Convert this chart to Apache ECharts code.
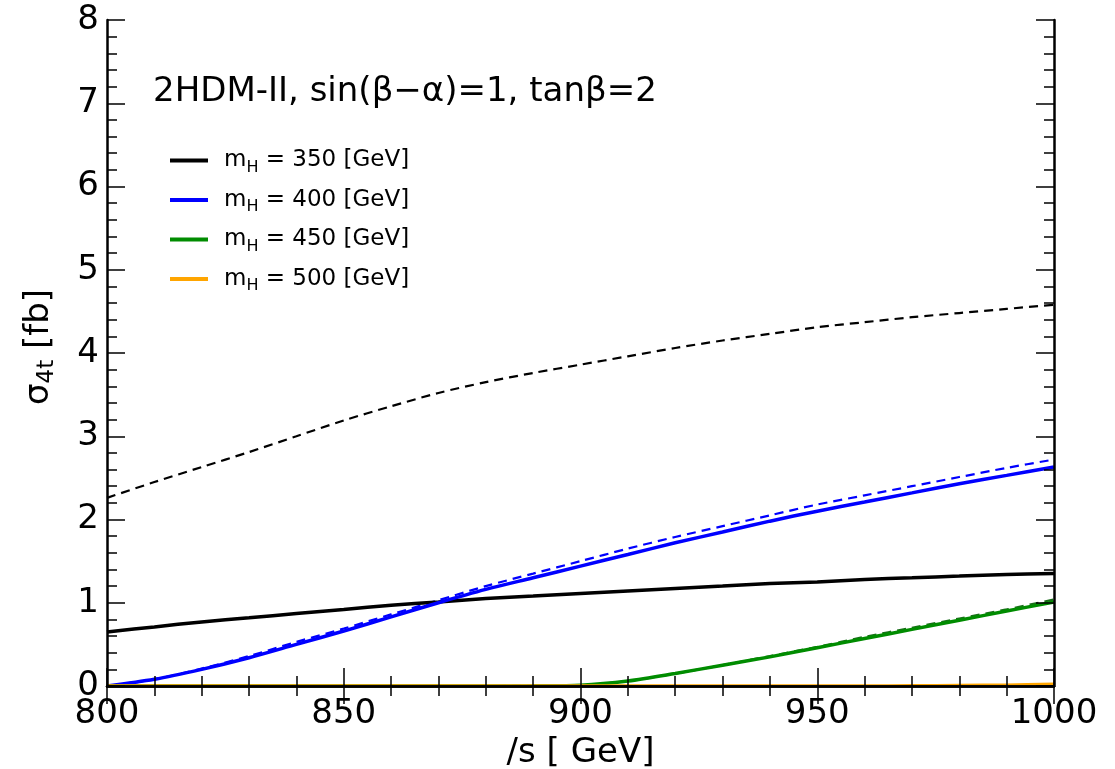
<!DOCTYPE html>
<html>
<head>
<meta charset="utf-8">
<script src="https://cdn.jsdelivr.net/npm/echarts@6/dist/echarts.min.js"></script>
<style>
  html, body { margin: 0; padding: 0; background: #fff; }
  #chart { width: 1115px; height: 769px; }
</style>
</head>
<body>
<div id="chart"></div>
<script>
// sqrt(s) in GeV
const energy = [800, 810, 820, 830, 840, 850, 860, 870, 880, 890, 900, 910, 920, 930, 940, 950, 960, 970, 980, 990, 1000];

const mH350 = [0.65, 0.71, 0.77, 0.82, 0.87, 0.92, 0.97, 1.01, 1.05, 1.08, 1.11, 1.14, 1.17, 1.20, 1.23, 1.25, 1.28, 1.30, 1.32, 1.34, 1.35];
const mH350dash = [2.26, 2.45, 2.63, 2.81, 3.0, 3.19, 3.36, 3.52, 3.65, 3.76, 3.86, 3.96, 4.06, 4.15, 4.23, 4.31, 4.37, 4.43, 4.48, 4.53, 4.58];
const mH400 = [0.0, 0.08, 0.2, 0.34, 0.5, 0.66, 0.83, 1.0, 1.16, 1.3, 1.44, 1.58, 1.72, 1.85, 1.98, 2.1, 2.21, 2.32, 2.43, 2.53, 2.63];
const mH400dash = [0.0, 0.08, 0.21, 0.36, 0.53, 0.69, 0.86, 1.03, 1.2, 1.35, 1.5, 1.65, 1.79, 1.92, 2.05, 2.18, 2.29, 2.40, 2.51, 2.62, 2.72];
const mH450 = [0, 0, 0, 0, 0, 0, 0, 0, 0, 0.002, 0.01, 0.06, 0.15, 0.25, 0.35, 0.46, 0.57, 0.68, 0.79, 0.90, 1.01];
const mH450dash = [0, 0, 0, 0, 0, 0, 0, 0, 0, 0.002, 0.01, 0.06, 0.15, 0.25, 0.36, 0.47, 0.59, 0.70, 0.81, 0.92, 1.04];
const mH500 = [0, 0, 0, 0, 0, 0, 0, 0, 0, 0, 0, 0, 0, 0, 0, 0, 0, 0.003, 0.006, 0.01, 0.02];

const names = ["350", "400", "450", "500"];
const font = "DejaVu Sans, Liberation Sans, sans-serif";

function pairs(ys) {
  return energy.map((x, i) => [x, ys[i]]);
}

function line(name, ys, color, dashed) {
  return {
    name: name,
    type: "line",
    data: pairs(ys),
    smooth: 0.3,
    symbol: "none",
    lineStyle: {
      color: color,
      width: dashed ? 2.2 : 3.5,
      type: dashed ? [9, 6] : "solid",
    },
    itemStyle: { color: color },
    z: dashed ? 3 : 4,
  };
}

const chart = echarts.init(document.getElementById("chart"));

const tickLabel = { color: "#000", fontSize: 34, fontFamily: font };

const baseX = {
  type: "value",
  min: 800,
  max: 1000,
  interval: 50,
  z: 10,
  axisLine: { show: true, lineStyle: { color: "#000", width: 2.5 } },
  axisTick: { show: true, inside: true, length: 18, lineStyle: { color: "#000", width: 1.5 } },
  minorTick: { show: true, splitNumber: 5, length: 10, lineStyle: { color: "#000", width: 1.5 } },
  splitLine: { show: false },
  minorSplitLine: { show: false },
};

const baseY = {
  type: "value",
  min: 0,
  max: 8,
  interval: 1,
  z: 10,
  axisLine: { show: true, lineStyle: { color: "#000", width: 2.5 } },
  axisTick: { show: true, inside: true, length: 18, lineStyle: { color: "#000", width: 1.5 } },
  minorTick: { show: true, splitNumber: 5, length: 10, lineStyle: { color: "#000", width: 1.5 } },
  splitLine: { show: false },
  minorSplitLine: { show: false },
};

const option = {
  backgroundColor: "#fff",
  animation: false,
  title: {
    text: "2HDM-II, sin(β−α)=1, tanβ=2",
    left: 148,
    top: 70,
    textStyle: { color: "#000", fontSize: 34, fontWeight: "normal", fontFamily: font },
  },
  grid: { left: 107, right: 61, top: 20, bottom: 83, outerBoundsMode: "none" },
  legend: {
    orient: "vertical",
    left: 165,
    top: 144,
    itemWidth: 38,
    itemHeight: 4,
    itemGap: 13,
    icon: "rect",
    data: names,
    formatter: function (n) {
      return "{m|m}{s|H}{m| = " + n + " [GeV]}";
    },
    textStyle: {
      padding: [0, 0, 0, 11],
      rich: {
        m: { fontSize: 23, color: "#000", fontFamily: font },
        s: { fontSize: 16, color: "#000", verticalAlign: "bottom", padding: [14, 0, 0, 0], fontFamily: font },
      },
    },
  },
  xAxis: [
    Object.assign({}, baseX, {
      position: "bottom",
      axisLabel: Object.assign({ margin: 11, formatter: (v) => String(v) }, tickLabel),
      name: "/s [ GeV]",
      nameLocation: "middle",
      nameGap: 48,
      nameTextStyle: { color: "#000", fontSize: 34, fontFamily: font, verticalAlign: "top" },
    }),
    Object.assign({}, baseX, { position: "top", axisLabel: { show: false } }),
  ],
  yAxis: [
    Object.assign({}, baseY, {
      position: "left",
      axisLabel: Object.assign({ margin: 8 }, tickLabel),
    }),
    Object.assign({}, baseY, { position: "right", axisLabel: { show: false } }),
  ],
  graphic: [
    {
      type: "text",
      x: 39,
      y: 347,
      rotation: Math.PI / 2,
      style: {
        text: "{a|σ}{b|4t}{a| [fb]}",
        align: "center",
        verticalAlign: "middle",
        rich: {
          a: { fontSize: 34, fill: "#000", fontFamily: font },
          b: { fontSize: 23, fill: "#000", verticalAlign: "bottom", padding: [16, 0, 0, 0], fontFamily: font },
        },
      },
    },
  ],
  series: [
    line("350dash", mH350dash, "#000000", true),
    line("400dash", mH400dash, "#0000ff", true),
    line("450dash", mH450dash, "#1a6e1a", true),
    line(names[0], mH350, "#000000", false),
    line(names[1], mH400, "#0000ff", false),
    line(names[2], mH450, "#008c00", false),
    line(names[3], mH500, "#ffa500", false),
  ],
};

chart.setOption(option);
</script>
</body>
</html>
